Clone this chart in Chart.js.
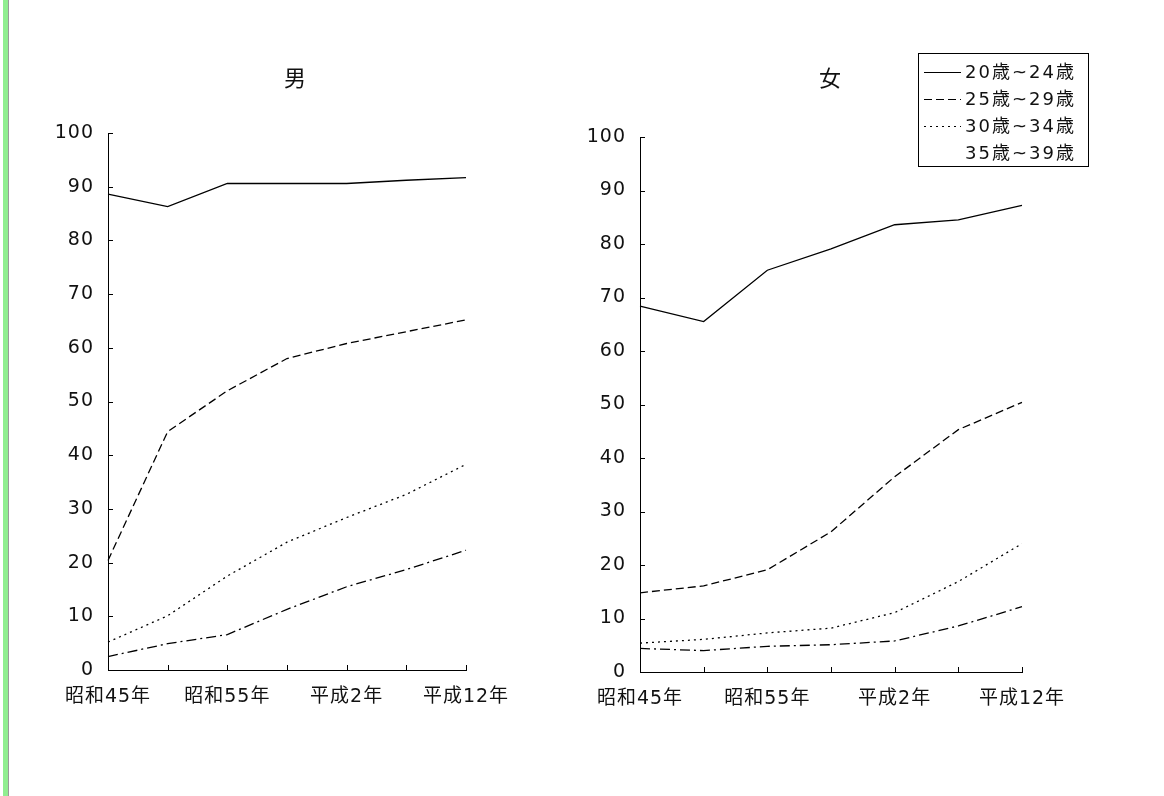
<!DOCTYPE html>
<html>
<head>
<meta charset="utf-8">
<script src="https://cdn.jsdelivr.net/npm/chart.js@4/dist/chart.umd.min.js"></script>
<style>
  html, body { margin: 0; padding: 0; background: #fff; }
  body { width: 1164px; height: 796px; position: relative; overflow: hidden; }
  #bar { position: absolute; left: 3px; top: 0; width: 5px; height: 796px; background: #90ee90; border-right: 1px solid #999; }
  .box { position: absolute; top: 0; height: 796px; }
  #boxM { left: 0; width: 560px; }
  #boxF { left: 560px; width: 604px; }
</style>
</head>
<body>
<div id="bar"></div>
<div class="box" id="boxM"><canvas id="chartM"></canvas></div>
<div class="box" id="boxF"><canvas id="chartF"></canvas></div>
<script>
const years = ["昭和45年", "昭和50年", "昭和55年", "昭和60年", "平成2年", "平成7年", "平成12年"];
const ageGroups = ["20歳~24歳", "25歳~29歳", "30歳~34歳", "35歳~39歳"];
const yTicks = [0, 10, 20, 30, 40, 50, 60, 70, 80, 90, 100];

// 男
const male20 = [88.6, 86.3, 90.6, 90.6, 90.6, 91.2, 91.7];
const male25 = [20.4, 44.4, 52.0, 58.0, 60.8, 63.0, 65.2];
const male30 = [5.2, 10.1, 17.5, 23.8, 28.4, 32.7, 38.3];
const male35 = [2.5, 4.9, 6.6, 11.3, 15.5, 18.7, 22.3];

// 女
const female20 = [68.4, 65.5, 75.1, 79.1, 83.6, 84.5, 87.2];
const female25 = [14.8, 16.1, 19.1, 26.2, 36.5, 45.3, 50.4];
const female30 = [5.4, 6.1, 7.3, 8.2, 11.1, 16.9, 24.0];
const female35 = [4.4, 4.0, 4.8, 5.1, 5.8, 8.6, 12.2];

const dashes = [[], [8, 4], [2, 4], [10, 4, 2, 4]];
const FONT = "'DejaVu Sans', 'Noto Sans CJK JP', sans-serif";

function makeSets(series) {
  return series.map((d, i) => ({
    label: ageGroups[i],
    data: d,
    borderColor: "#000",
    borderWidth: 1.3,
    borderDash: dashes[i],
    pointRadius: 0,
    fill: false,
    tension: 0
  }));
}

// wider letter spacing, like the old bitmap font of the original
const spacing = {
  id: "spacing",
  beforeUpdate(chart) { chart.ctx.letterSpacing = "1px"; },
  beforeDraw(chart) { chart.ctx.letterSpacing = "1px"; }
};

// inward tick marks + panel title
const decor = {
  id: "decor",
  afterDraw(chart, args, opts) {
    const ctx = chart.ctx;
    const xs = chart.scales.x, ys = chart.scales.y;
    const area = chart.chartArea;
    ctx.save();
    ctx.strokeStyle = "#000";
    ctx.lineWidth = 1;
    ctx.beginPath();
    yTicks.forEach(v => {
      const y = Math.round(ys.getPixelForValue(v)) + 0.5;
      ctx.moveTo(area.left, y);
      ctx.lineTo(area.left + 5, y);
    });
    years.forEach((c, i) => {
      const x = Math.round(xs.getPixelForValue(i)) + 0.5;
      ctx.moveTo(x, area.bottom);
      ctx.lineTo(x, area.bottom - 5);
    });
    ctx.stroke();
    ctx.fillStyle = "#111";
    ctx.letterSpacing = "0px";
    ctx.font = "22px 'Noto Sans CJK JP', sans-serif";
    ctx.textAlign = "center";
    ctx.textBaseline = "middle";
    ctx.fillText(opts.title, (area.left + area.right) / 2 + opts.titleShift, 78);
    ctx.restore();
  }
};

// legend box drawn on the 女 panel
const legendBox = {
  id: "legendBox",
  afterDraw(chart, args, opts) {
    if (!opts.show) return;
    const ctx = chart.ctx;
    const bx = 358, by = 53, bw = 170, bh = 113;
    ctx.save();
    ctx.fillStyle = "#fff";
    ctx.fillRect(bx, by, bw, bh);
    ctx.strokeStyle = "#000";
    ctx.lineWidth = 1;
    ctx.strokeRect(bx + 0.5, by + 0.5, bw, bh);
    ctx.font = "18px " + FONT;
    ctx.letterSpacing = "2px";
    ctx.fillStyle = "#111";
    ctx.textAlign = "left";
    ctx.textBaseline = "middle";
    chart.data.datasets.forEach((ds, i) => {
      const y = by + 19 + i * 27;
      if (i < 3) {
        ctx.beginPath();
        ctx.setLineDash(ds.borderDash);
        ctx.moveTo(bx + 6, y + 0.5);
        ctx.lineTo(bx + 43, y + 0.5);
        ctx.stroke();
        ctx.setLineDash([]);
      }
      ctx.fillText(ds.label, bx + 47, y + 1);
    });
    ctx.restore();
  }
};

function makeChart(id, series, padding, title, titleShift, showLegend) {
  return new Chart(document.getElementById(id), {
    type: "line",
    data: { labels: years, datasets: makeSets(series) },
    options: {
      responsive: true,
      maintainAspectRatio: false,
      animation: false,
      layout: { padding: padding },
      plugins: {
        legend: { display: false },
        tooltip: { enabled: false },
        decor: { title: title, titleShift: titleShift },
        legendBox: { show: showLegend }
      },
      scales: {
        x: {
          offset: false,
          grid: { display: false, drawTicks: false },
          border: { display: true, color: "#000", width: 1 },
          afterFit(scale) { scale.height = 50; },
          ticks: {
            autoSkip: false,
            maxRotation: 0,
            padding: 16,
            color: "#111",
            font: { family: FONT, size: 19 },
            callback: (v, i) => (i % 2 === 0 ? years[i] : "")
          }
        },
        y: {
          min: 0,
          max: 100,
          grid: { display: false, drawTicks: false },
          border: { display: true, color: "#000", width: 1 },
          afterFit(scale) { scale.width = 60; },
          afterBuildTicks(scale) { scale.ticks = yTicks.map(v => ({ value: v })); },
          ticks: {
            padding: 14,
            color: "#111",
            font: { family: FONT, size: 19 }
          }
        }
      }
    },
    plugins: [spacing, decor, legendBox]
  });
}

makeChart("chartM", [male20, male25, male30, male35],
  { left: 48, right: 94, top: 133, bottom: 76 }, "男", 8, false);
makeChart("chartF", [female20, female25, female30, female35],
  { left: 20, right: 142, top: 137, bottom: 74 }, "女", -1, true);
</script>
</body>
</html>
